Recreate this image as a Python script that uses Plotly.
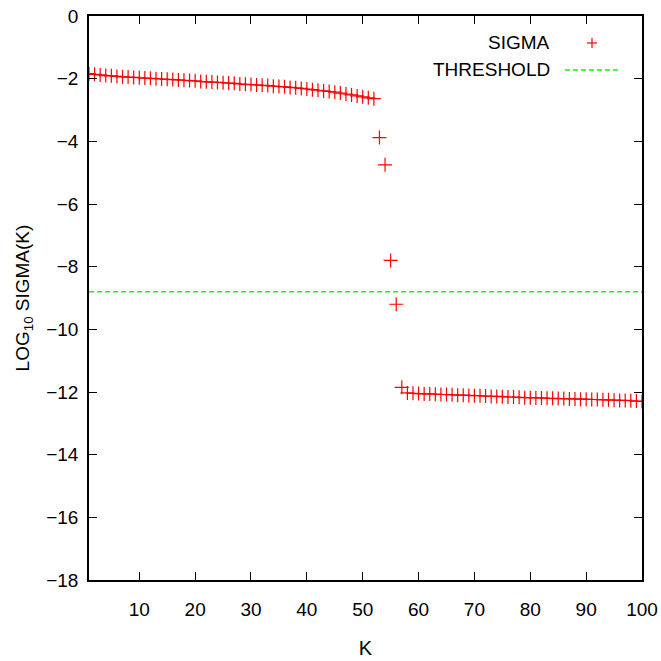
import plotly.graph_objects as go

k_values = list(range(1, 101))
log_sigma = [
    -1.84, -1.86, -1.88, -1.90, -1.91, -1.93, -1.94, -1.95, -1.96, -1.97,
    -1.98, -1.99, -2.00, -2.01, -2.02, -2.03, -2.04, -2.05, -2.06, -2.07,
    -2.09, -2.10, -2.11, -2.12, -2.13, -2.14, -2.15, -2.17, -2.18, -2.19,
    -2.20, -2.21, -2.22, -2.24, -2.25, -2.26, -2.28, -2.29, -2.31, -2.33,
    -2.35, -2.37, -2.39, -2.41, -2.43, -2.46, -2.49, -2.52, -2.55, -2.58,
    -2.61, -2.64, -3.88, -4.75, -7.80, -9.20, -11.85, -12.03, -12.04, -12.05,
    -12.06, -12.06, -12.07, -12.08, -12.08, -12.09, -12.10, -12.10, -12.11, -12.12,
    -12.12, -12.13, -12.14, -12.14, -12.15, -12.16, -12.16, -12.17, -12.18, -12.18,
    -12.19, -12.19, -12.20, -12.20, -12.21, -12.21, -12.22, -12.22, -12.23, -12.23,
    -12.24, -12.24, -12.25, -12.25, -12.26, -12.27, -12.27, -12.28, -12.29, -12.30,
]
threshold_k = [1, 100]
threshold_value = [-8.8, -8.8]

x_ticks = [10, 20, 30, 40, 50, 60, 70, 80, 90, 100]
y_ticks = [0, -2, -4, -6, -8, -10, -12, -14, -16, -18]

FONT = "Liberation Sans, Arial, sans-serif"
FS = 19
RED = "#ff0000"
GREEN = "#22ee22"

L, R, T, B = 89, 19, 16, 81
W = H = 661
PW, PH = W - L - R, H - T - B

fig = go.Figure()
fig.add_trace(go.Scatter(
    x=k_values, y=log_sigma, mode="markers", name="SIGMA",
    marker=dict(symbol="cross-thin", size=10, color=RED,
                line=dict(color=RED, width=1.2)),
    showlegend=False,
))
fig.add_trace(go.Scatter(
    x=threshold_k, y=threshold_value, mode="lines", name="THRESHOLD",
    line=dict(color=GREEN, width=1.3, dash="5px,3px"),
    showlegend=False,
))

axis_common = dict(
    showgrid=False, zeroline=False, showline=True, linecolor="black",
    linewidth=1.5, mirror="allticks", ticks="inside", ticklen=8,
    tickcolor="black", tickwidth=1.2, automargin=False,
    tickfont=dict(family=FONT, size=FS, color="black"),
)
fig.update_xaxes(range=[1, 100], tickvals=x_ticks, ticklabelstandoff=11,
                 title=dict(text="K", font=dict(family=FONT, size=FS + 1, color="black"), standoff=22),
                 **axis_common)
fig.update_yaxes(range=[-18, 0], tickvals=y_ticks, ticklabelstandoff=5,
                 title=dict(text="LOG<sub>10</sub> SIGMA(K)", font=dict(family=FONT, size=FS, color="black"), standoff=12),
                 **axis_common)

px_x = lambda v: (v - L) / PW
px_y = lambda v: 1 - (v - T) / PH

# gnuplot-style key (text then sample) in the top right
fig.add_annotation(xref="paper", yref="paper", x=px_x(552), y=px_y(43),
                   text="SIGMA", showarrow=False, xanchor="right", yanchor="middle",
                   font=dict(family=FONT, size=FS, color="black"))
fig.add_annotation(xref="paper", yref="paper", x=px_x(552), y=px_y(70),
                   text="THRESHOLD", showarrow=False, xanchor="right", yanchor="middle",
                   font=dict(family=FONT, size=FS, color="black"))
fig.add_shape(type="line", xref="paper", yref="paper", x0=px_x(587), x1=px_x(597),
              y0=px_y(43), y1=px_y(43), line=dict(color=RED, width=1.2))
fig.add_shape(type="line", xref="paper", yref="paper", x0=px_x(592), x1=px_x(592),
              y0=px_y(38), y1=px_y(48), line=dict(color=RED, width=1.2))
fig.add_shape(type="line", xref="paper", yref="paper", x0=px_x(565), x1=px_x(620),
              y0=px_y(70), y1=px_y(70), line=dict(color=GREEN, width=1.3, dash="5px,3px"))

fig.update_layout(
    width=W, height=H,
    margin=dict(l=L, r=R, t=T, b=B),
    plot_bgcolor="white", paper_bgcolor="white",
    font=dict(family=FONT, color="black"),
)
fig.write_html("out.html")
